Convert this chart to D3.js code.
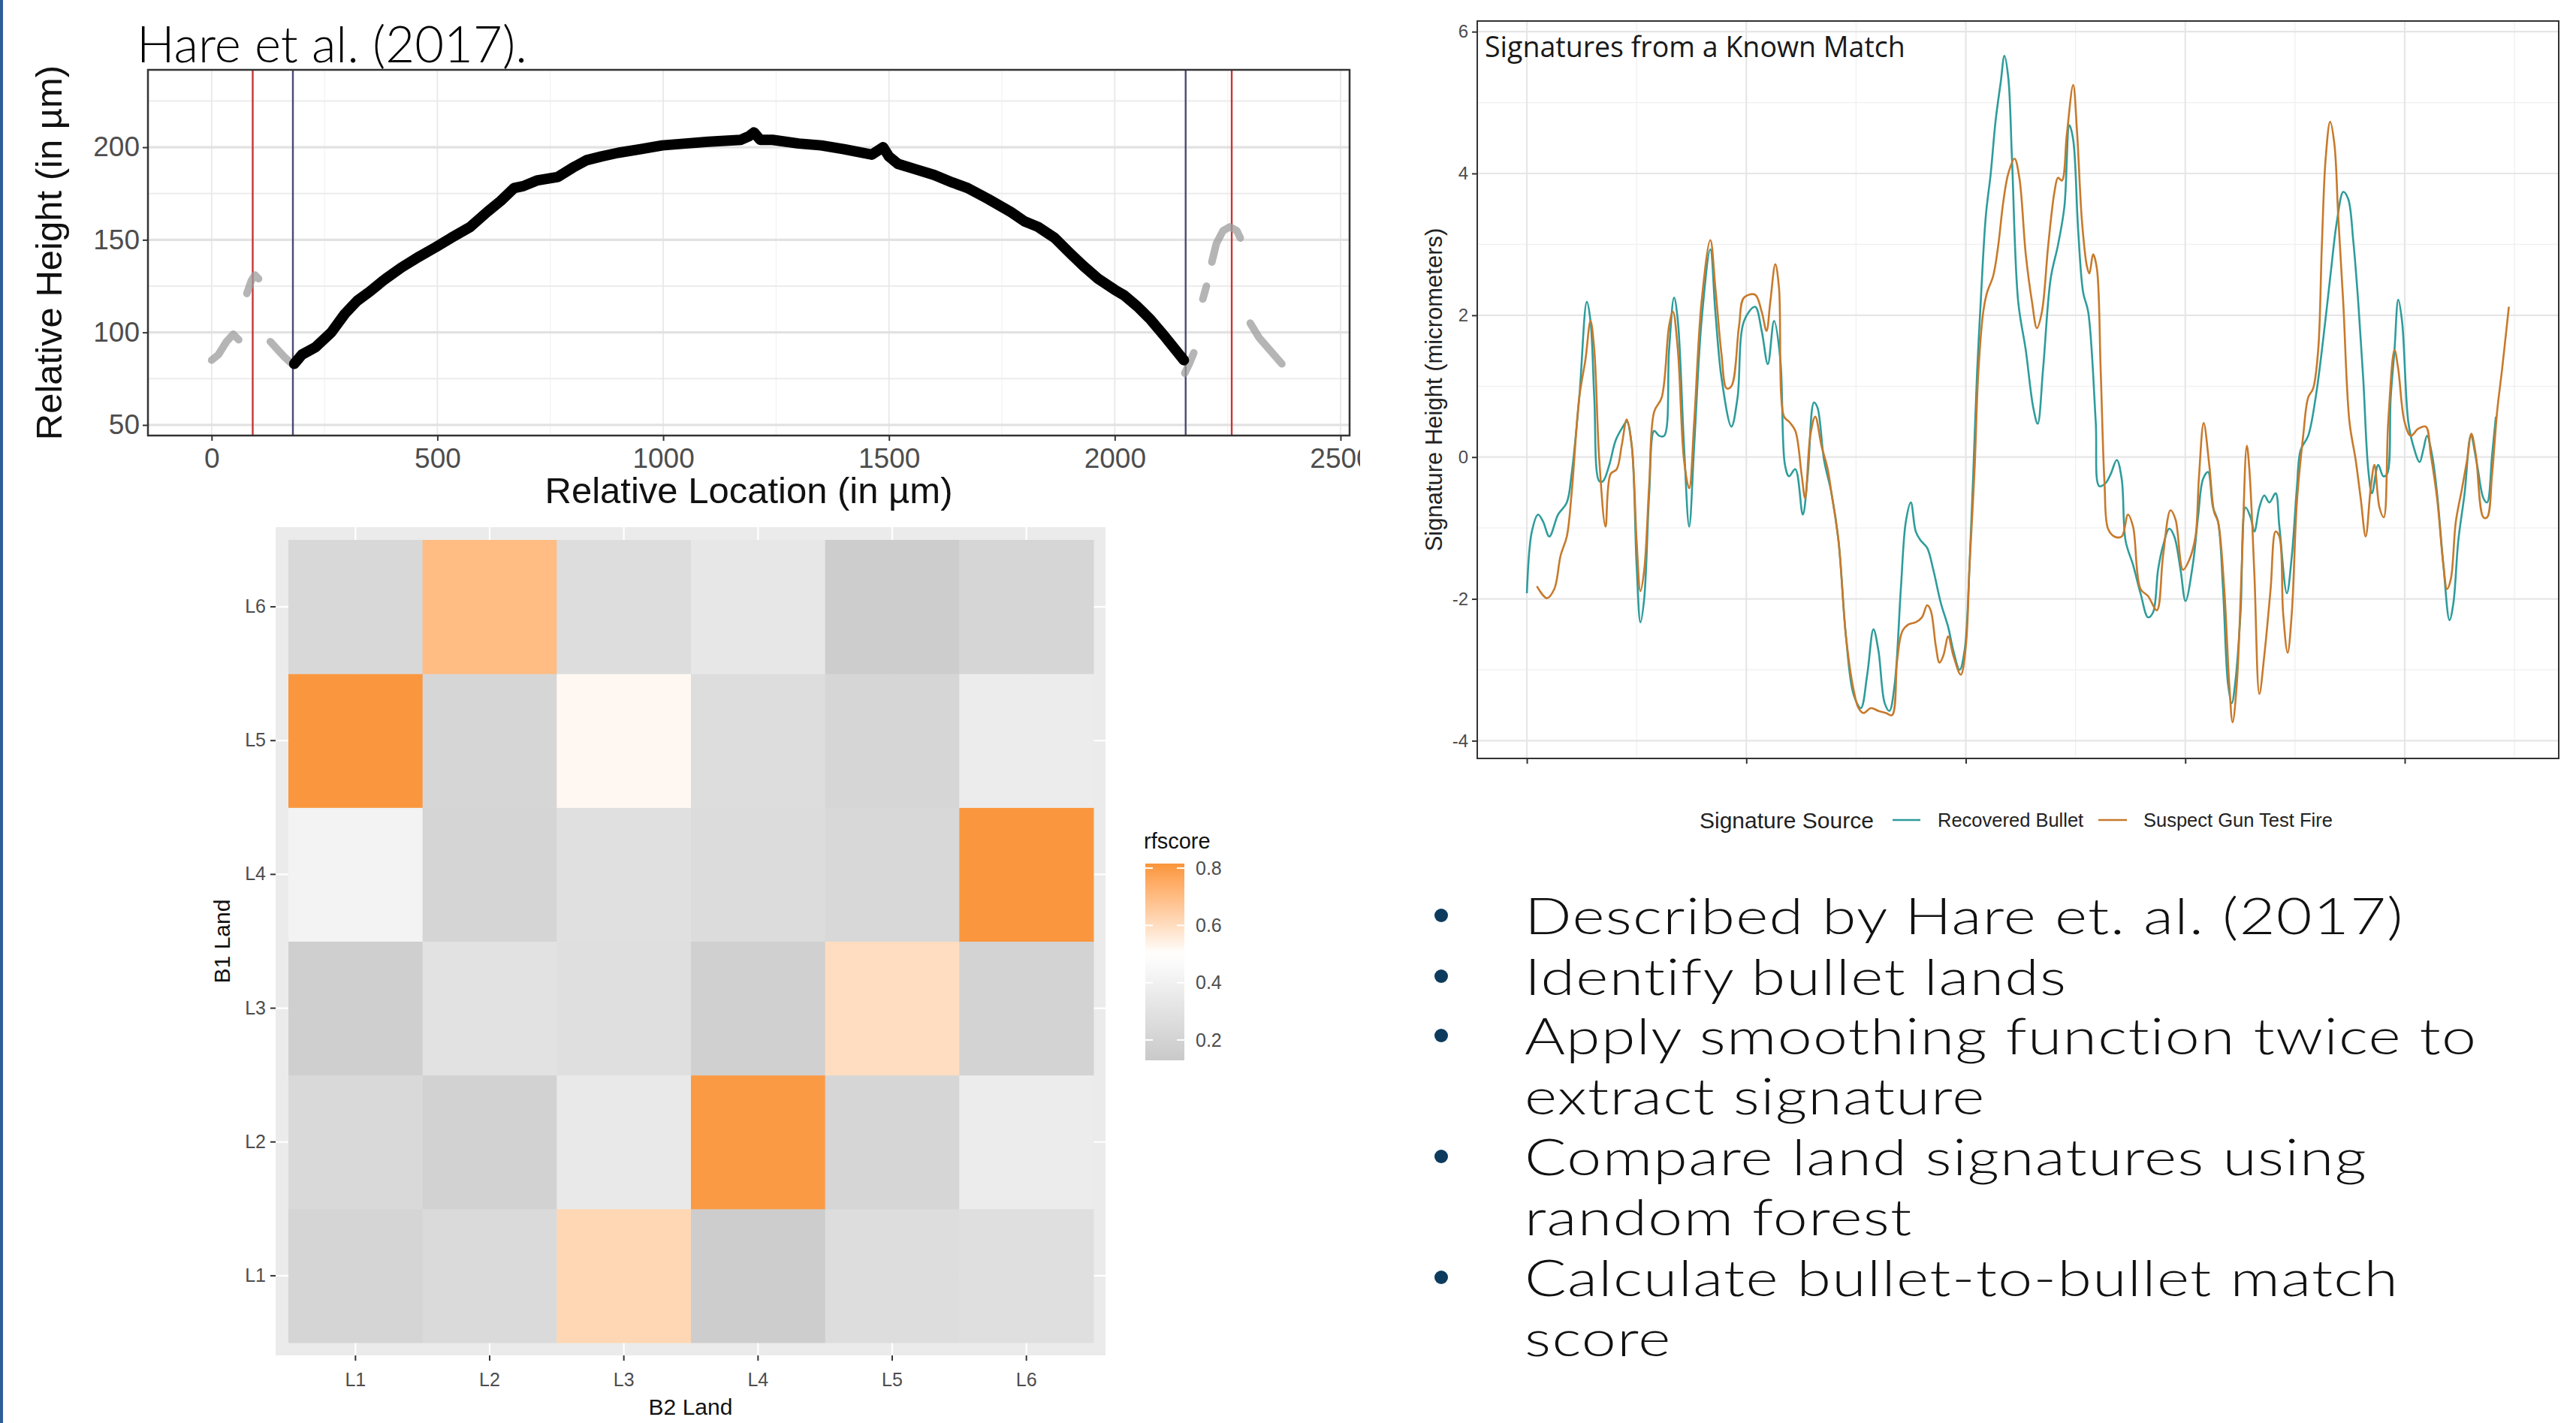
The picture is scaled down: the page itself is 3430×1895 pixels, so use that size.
<!DOCTYPE html>
<html><head><meta charset="utf-8">
<script src="https://cdn.jsdelivr.net/npm/d3@7"></script>
<style>html,body{margin:0;padding:0;background:#fff;}svg{display:block;}</style>
</head><body>
<script>
// ---------------- DATA ----------------
// Profile (Hare et al. 2017): black = used part, grey = excluded shoulders
const profileX = [183,200,230,265,295,322,350,380,420,460,496,530,573,610,640,670,690,720,767,800,830,863,900,950,998,1050,1100,1172,1190,1201,1215,1242,1300,1350,1400,1462,1487,1500,1520,1560,1600,1640,1674,1720,1770,1800,1830,1867,1900,1930,1963,2000,2021,2050,2079,2110,2153];
const profileY = [83,88,92,100,110,117,122,128,135,141,146,151,157,165,171,178,179,182,184,189,193,195,197,199,201,202,203,204,206,208,204,204,202,201,199,196,200,195,191,188,185,181,178,172,165,160,157,151,143,136,129,123,120,114,107,98,85];
const shoulderX = [[0,15,33,48,60],[78,88,96,104],[130,145,160,178],[2155,2165,2175],[2195,2203],[2215,2225,2240,2255,2270,2278],[2300,2320,2345,2370]];
const shoulderY = [[85,88,95,99,96],[121,128,131,129],[95,91,87,83],[78,83,89],[118,125],[138,148,155,157,155,151],[105,97,90,83]];
const redLines = [91, 2259];
const navyLines = [180, 2157];
const profXTicks = [0,500,1000,1500,2000,2500];
const profYTicks = [50,100,150,200];

// Signatures from a known match
const sigSeries = ["Recovered Bullet","Suspect Gun Test Fire"];
const recX = [0,5.7,12.8,18.5,25.6,35.6,45.5,51,59.7,68.3,72.5,76.8,82.5,86.7,93.9,101,108,113.8,119.5,125,129.4,133.7,139.4,145,150.7,156.4,162,167.7,172,179,184.9,190.6,199,209,214.7,221.8,233,240,247.4,260,267.5,274.5,281.6,288.7,294,298.6,305.8,314.3,320,327,331,338.5,347,355,363.5,372,380.5,387.7,394.8,400.5,407.6,413,419,426,431.7,437.4,443,448.8,456,463,471.6,480,485.8,493,498.6,504.3,508.5,512.8,517,522.8,528.4,534,539.8,544,548.4,552.6,559.7,568.3,576.8,581.9,588,596.7,605,612.3,618,622.3,628,633.7,639.4,648,652,659,665,672,677.6,682,690.5,699,707.6,713.3,719,724.7,731.8,737.5,744.6,750.3,758.8,764.5,770.2,775.9,781.6,787.3,793,798.7,803,807.3,813,818.7,824.4,828.7,834.4,840,845.8,852.9,857.2,865.7,871.4,877.1,881.4,890,898.5,907,915.6,922.8,930,935.6,941.3,947,952.7,958.4,962.7,969.8,975.5,979.8,984,988.3,992.6,996.9,1004,1009.7,1016.9,1021.1,1025.4,1031.1,1036.8,1044,1051,1055.4,1061,1068.2,1075.3,1082.4,1089.6,1093.8,1099.5,1103.8];
const recY = [-1.92,-1.05,-0.81,-0.91,-1.12,-0.81,-0.64,-0.24,0.84,2.19,1.92,0.84,-0.34,-0.34,-0.11,0.23,0.40,0.50,0.16,-1.52,-2.33,-1.99,-0.51,0.37,0.30,0.30,1.51,2.25,1.92,0.16,-0.98,0.16,1.92,2.93,2.05,1.11,0.43,0.84,1.92,2.12,1.78,1.31,1.92,1.38,-0.11,-0.27,-0.17,-0.81,-0.24,0.77,0.70,-0.04,-0.51,-1.18,-2.53,-3.34,-3.54,-3.07,-2.43,-2.73,-3.47,-3.58,-3.2,-1.86,-0.91,-0.64,-1.05,-1.18,-1.28,-1.59,-2.06,-2.40,-2.73,-3.0,-2.73,-1.52,-0.24,1.18,2.19,3.40,4.0,4.75,5.29,5.66,5.35,4.21,2.19,1.51,0.70,0.47,1.24,2.52,2.99,3.53,4.68,4.48,3.20,2.32,2.05,0.50,-0.41,-0.37,-0.24,-0.04,-0.31,-1.18,-1.52,-1.92,-2.26,-2.19,-1.59,-1.25,-1.01,-1.12,-1.59,-2.03,-1.50,-0.85,-0.31,-0.21,-0.71,-0.91,-1.86,-3.2,-3.47,-3.14,-2.19,-0.71,-0.85,-1.05,-0.71,-0.54,-0.64,-0.51,-0.98,-1.92,-1.39,-0.44,0.10,0.30,0.84,1.65,2.59,3.33,3.74,3.64,3.06,2.19,1.11,-0.17,-0.51,-0.11,-0.27,-0.24,0.84,1.51,2.22,1.92,0.50,0.16,-0.07,0.10,0.30,0.03,-0.51,-1.52,-2.30,-2.06,-1.18,-0.51,0.30,-0.11,-0.58,-0.64,0.03,0.57];
const testX = [11.4,22.8,31.3,38.4,45.5,51,59.7,66.8,72.5,76.8,82.5,89.6,95.3,102.4,108,113.8,119.5,125,129.4,133.7,139.4,145,153.6,162,166.4,172,179,184.9,190.6,199,209,214.7,221.8,227.5,233,241.7,247.4,260,267.5,273,277.3,283,287.2,293,298.6,305.8,312.9,317,322.8,328.5,335.6,342.7,347,355,363.5,372,377.8,383.4,392,400.5,409,416,421.8,427.5,434.6,443,450,456,460,465.9,470,474.4,480,485.8,494.3,500,504.3,510,514.2,519.9,524.2,531.3,537,542.7,548.4,555.5,561,568.3,575.4,581,586.7,593.9,601,605,609.5,615,622.3,626.6,632.3,638,640.8,645,649.3,653.6,658,662,669.2,677.6,684.7,690.5,699,707.6,717.6,724.7,733.2,738.9,747.4,754.5,761.6,765.5,771,777.3,783,787.3,794.4,800.1,803.9,808.7,814.4,820.1,823,828.7,834.4,840,847.2,852.9,857.2,861.4,866.6,871.4,877.1,884.3,890,895.7,901.4,905.6,909.9,915,919.9,924.2,929.9,937,944.1,949.8,955.5,961.2,965.5,971.2,976.1,981.2,988.3,992.6,999.7,1006.9,1015.4,1024,1029.7,1036.8,1044,1048.2,1052.5,1058.2,1065.3,1071,1075.9,1081,1089.6,1093.8,1099.5,1105.2,1110.9,1118.6];
const testY = [-1.82,-1.99,-1.86,-1.39,-1.12,-0.51,0.84,1.38,1.92,1.51,-0.04,-0.98,-0.24,-0.17,0.16,0.53,0.16,-1.18,-1.89,-1.59,-0.38,0.64,0.84,1.85,2.05,1.51,-0.04,-0.44,0.50,2.19,3.06,2.39,1.44,0.97,1.0,1.85,2.25,2.29,2.05,1.78,2.19,2.72,2.39,0.57,0.50,0.37,-0.24,-0.58,0.30,0.57,0.16,-0.17,-0.51,-1.18,-2.53,-3.27,-3.54,-3.61,-3.54,-3.58,-3.61,-3.64,-2.87,-2.46,-2.36,-2.33,-2.26,-2.09,-2.16,-2.67,-2.90,-2.80,-2.53,-2.80,-3.07,-2.67,-1.52,-0.17,1.18,2.05,2.32,2.56,2.99,3.60,4.0,4.21,3.94,2.86,2.19,1.82,2.05,2.99,3.74,3.94,3.90,4.54,5.25,4.61,3.33,2.69,2.59,2.86,2.66,1.24,-0.37,-1.01,-1.12,-1.12,-0.81,-0.98,-1.86,-1.96,-2.16,-1.39,-0.75,-0.88,-1.59,-1.45,-1.12,-0.3,0.48,-0.11,-0.78,-0.91,-1.86,-3.2,-3.74,-3.2,-1.52,0.16,-0.17,-1.65,-3.34,-2.80,-1.86,-1.05,-1.12,-2.19,-2.76,-2.19,-0.64,0.30,0.84,0.97,1.51,2.99,4.21,4.73,4.41,3.40,2.19,0.50,-0.04,-0.58,-1.12,-0.44,-0.11,-0.71,-0.85,0.50,1.51,1.24,0.50,0.30,0.40,0.43,0.03,-0.58,-1.52,-1.86,-1.72,-0.91,-0.44,-0.04,0.33,0.03,-0.85,-0.85,-0.24,0.64,1.24,2.12];
const sigYTicks = [-4,-2,0,2,4,6];
const sigXTicks = [0,250,500,750,1000];

// Heatmap of rfscore: rows = B1 land (L1..L6), columns = B2 land (L1..L6)
const b2Lands = ["L1","L2","L3","L4","L5","L6"];
const b1Lands = ["L1","L2","L3","L4","L5","L6"];
const rfB1L1 = [0.21, 0.25, 0.62, 0.156, 0.27, 0.28];
const rfB1L2 = [0.24, 0.195, 0.35, 0.80, 0.22, 0.37];
const rfB1L3 = [0.17, 0.30, 0.28, 0.18, 0.60, 0.20];
const rfB1L4 = [0.42, 0.21, 0.29, 0.26, 0.235, 0.81];
const rfB1L5 = [0.81, 0.22, 0.52, 0.27, 0.22, 0.37];
const rfB1L6 = [0.235, 0.70, 0.27, 0.34, 0.156, 0.223];
const rfLegendTicks = [0.2, 0.4, 0.6, 0.8];

const bullets = [
  {dot:true,  text:"Described by Hare et. al. (2017)"},
  {dot:true,  text:"Identify bullet lands"},
  {dot:true,  text:"Apply smoothing function twice to"},
  {dot:false, text:"extract signature"},
  {dot:true,  text:"Compare land signatures using"},
  {dot:false, text:"random forest"},
  {dot:true,  text:"Calculate bullet-to-bullet match"},
  {dot:false, text:"score"}
];

// ---------------- DRAWING ----------------
const W = 3430, H = 1895;
const RF = "'Liberation Sans', Arial, sans-serif";
const SLIDE = "Lato, 'Open Sans', sans-serif";
const svg = d3.select("body").append("svg").attr("width", W).attr("height", H);
svg.append("rect").attr("width", W).attr("height", H).attr("fill", "#fff");
const defs = svg.append("defs");

function fitText(sel, target) {
  const len = sel.node().getComputedTextLength();
  const fs = parseFloat(sel.attr("font-size"));
  if (len > 0) sel.attr("font-size", (fs * target / len).toFixed(2));
  return parseFloat(sel.attr("font-size"));
}

// left slide accent bar
svg.append("rect").attr("x", 0).attr("y", 0).attr("width", 4).attr("height", H).attr("fill", "#2f5f98");

// ===== Profile chart =====
defs.append("clipPath").attr("id", "profClip").append("rect").attr("x", 0).attr("y", 0).attr("width", 1811).attr("height", 700);
const prof = svg.append("g").attr("clip-path", "url(#profClip)");
const pL = 197, pR = 1797, pT = 93, pB = 580;
const px = d3.scaleLinear().domain([-141, 2520]).range([pL, pR]);
const py = d3.scaleLinear().domain([44.3, 241.8]).range([pB, pT]);
prof.append("rect").attr("x", pL).attr("y", pT).attr("width", pR - pL).attr("height", pB - pT).attr("fill", "#fff");
// grid
const pxMinor = d3.range(-250, 2751, 500).filter(v => v > -141 && v < 2520);
const pyMinor = [75, 125, 175, 225];
prof.selectAll(".pxm").data(pxMinor).join("line").attr("x1", d => px(d)).attr("x2", d => px(d)).attr("y1", pT).attr("y2", pB).attr("stroke", "#f2f2f2").attr("stroke-width", 1.2);
prof.selectAll(".pym").data(pyMinor).join("line").attr("x1", pL).attr("x2", pR).attr("y1", d => py(d)).attr("y2", d => py(d)).attr("stroke", "#ececec").attr("stroke-width", 2);
prof.selectAll(".pxM").data(profXTicks).join("line").attr("x1", d => px(d)).attr("x2", d => px(d)).attr("y1", pT).attr("y2", pB).attr("stroke", "#e8e8e8").attr("stroke-width", 1.8);
prof.selectAll(".pyM").data(profYTicks).join("line").attr("x1", pL).attr("x2", pR).attr("y1", d => py(d)).attr("y2", d => py(d)).attr("stroke", "#e2e2e2").attr("stroke-width", 3.2);
// vertical markers
prof.selectAll(".red").data(redLines).join("line").attr("x1", d => px(d)).attr("x2", d => px(d)).attr("y1", pT).attr("y2", pB).attr("stroke", "#c93434").attr("stroke-width", 2.4);
prof.selectAll(".navy").data(navyLines).join("line").attr("x1", d => px(d)).attr("x2", d => px(d)).attr("y1", pT).attr("y2", pB).attr("stroke", "#4a4a72").attr("stroke-width", 2.4);
// shoulders
const pLine = d3.line().x(d => px(d[0])).y(d => py(d[1]));
shoulderX.forEach((xs, i) => {
  const pts = xs.map((x, j) => [x, shoulderY[i][j]]);
  prof.append("path").attr("d", pLine(pts)).attr("fill", "none").attr("stroke", "#9c9c9c").attr("stroke-opacity", 0.75)
    .attr("stroke-width", 10).attr("stroke-linecap", "round").attr("stroke-linejoin", "round");
});
// main profile
prof.append("path").attr("d", pLine(profileX.map((x, i) => [x, profileY[i]]))).attr("fill", "none").attr("stroke", "#000")
  .attr("stroke-width", 14).attr("stroke-linecap", "round").attr("stroke-linejoin", "round");
prof.append("rect").attr("x", pL).attr("y", pT).attr("width", pR - pL).attr("height", pB - pT).attr("fill", "none").attr("stroke", "#333").attr("stroke-width", 2.5);
// axes
const pxAxis = prof.append("g").attr("transform", `translate(0,${pB})`).call(d3.axisBottom(px).tickValues(profXTicks).tickSize(7).tickPadding(5).tickFormat(d3.format("d")));
const pyAxis = prof.append("g").attr("transform", `translate(${pL},0)`).call(d3.axisLeft(py).tickValues(profYTicks).tickSize(7).tickPadding(4).tickFormat(d3.format("d")));
[pxAxis, pyAxis].forEach(a => {
  a.select(".domain").remove();
  a.selectAll(".tick line").attr("stroke", "#333").attr("stroke-width", 2);
  a.selectAll(".tick text").attr("fill", "#4d4d4d").attr("font-family", RF).attr("font-size", 37);
});
pxAxis.selectAll(".tick text").attr("dy", "0.85em");
prof.append("text").attr("x", (pL + pR) / 2).attr("y", 670).attr("text-anchor", "middle").attr("font-family", RF).attr("font-size", 49).attr("fill", "#111").text("Relative Location (in µm)");
prof.append("text").attr("transform", `translate(82,${(pT + pB) / 2}) rotate(-90)`).attr("text-anchor", "middle").attr("font-family", RF).attr("font-size", 49).attr("fill", "#111").text("Relative Height (in µm)");
const hareT = svg.append("text").attr("x", 182).attr("y", 83).attr("font-family", SLIDE).attr("font-weight", 300).attr("font-size", 54).attr("fill", "#000").text("Hare et al. (2017).");
fitText(hareT, 520);

// ===== Signature chart =====
const sL = 1967, sR = 3407, sT = 28, sB = 1010;
const sx = d3.scaleLinear().domain([-56.5, 1175.4]).range([sL, sR]);
const sy = d3.scaleLinear().domain([-4.25, 6.15]).range([sB, sT]);
const sig = svg.append("g");
sig.append("rect").attr("x", sL).attr("y", sT).attr("width", sR - sL).attr("height", sB - sT).attr("fill", "#fff");
const sxMinor = [125, 375, 625, 875, 1125];
const syMinor = [-3, -1, 1, 3, 5];
sig.selectAll(".sxm").data(sxMinor).join("line").attr("x1", d => sx(d)).attr("x2", d => sx(d)).attr("y1", sT).attr("y2", sB).attr("stroke", "#f0f0f0").attr("stroke-width", 1.3);
sig.selectAll(".sym").data(syMinor).join("line").attr("x1", sL).attr("x2", sR).attr("y1", d => sy(d)).attr("y2", d => sy(d)).attr("stroke", "#f0f0f0").attr("stroke-width", 1.3);
sig.selectAll(".sxM").data(sigXTicks).join("line").attr("x1", d => sx(d)).attr("x2", d => sx(d)).attr("y1", sT).attr("y2", sB).attr("stroke", "#e6e6e6").attr("stroke-width", 2.2);
sig.selectAll(".syM").data(sigYTicks).join("line").attr("x1", sL).attr("x2", sR).attr("y1", d => sy(d)).attr("y2", d => sy(d)).attr("stroke", "#e6e6e6").attr("stroke-width", 2.2);
const sigColor = d3.scaleOrdinal().domain(sigSeries).range(["#2e9c9b", "#c77a2c"]);
const sLine = d3.line().x(d => sx(d[0])).y(d => sy(d[1])).curve(d3.curveCatmullRom.alpha(0.5));
sig.append("path").attr("d", sLine(recX.map((x, i) => [x, recY[i]]))).attr("fill", "none").attr("stroke", sigColor(sigSeries[0])).attr("stroke-width", 2.6).attr("stroke-linejoin", "round");
sig.append("path").attr("d", sLine(testX.map((x, i) => [x, testY[i]]))).attr("fill", "none").attr("stroke", sigColor(sigSeries[1])).attr("stroke-width", 2.6).attr("stroke-linejoin", "round");
sig.append("rect").attr("x", sL).attr("y", sT).attr("width", sR - sL).attr("height", sB - sT).attr("fill", "none").attr("stroke", "#333").attr("stroke-width", 2);
const syAxis = sig.append("g").attr("transform", `translate(${sL},0)`).call(d3.axisLeft(sy).tickValues(sigYTicks).tickSize(7).tickPadding(5).tickFormat(d3.format("d")));
const sxAxis = sig.append("g").attr("transform", `translate(0,${sB})`).call(d3.axisBottom(sx).tickValues(sigXTicks).tickSize(7).tickFormat(""));
[syAxis, sxAxis].forEach(a => {
  a.select(".domain").remove();
  a.selectAll(".tick line").attr("stroke", "#333").attr("stroke-width", 2);
  a.selectAll(".tick text").attr("fill", "#4d4d4d").attr("font-family", RF).attr("font-size", 24);
});
syAxis.selectAll(".tick text").text(d => d < 0 ? "-" + Math.abs(d) : d);
sig.append("text").attr("transform", `translate(1920,${(sT + sB) / 2}) rotate(-90)`).attr("text-anchor", "middle").attr("font-family", RF).attr("font-size", 31).attr("fill", "#222").text("Signature Height (micrometers)");
const sigTitle = sig.append("text").attr("x", 1977).attr("y", 76).attr("font-family", "'Open Sans', sans-serif").attr("font-size", 37).attr("fill", "#1a1a1a").text("Signatures from a Known Match");
fitText(sigTitle, 560);
// legend
const lg = svg.append("g");
const lgY = 1092;
lg.append("text").attr("x", 2263).attr("y", lgY).attr("dy", "0.35em").attr("font-family", RF).attr("font-size", 30).attr("fill", "#222").text("Signature Source");
const lgKeys = [{x1: 2520, x2: 2557, tx: 2580}, {x1: 2794, x2: 2832, tx: 2854}];
sigSeries.forEach((s, i) => {
  lg.append("line").attr("x1", lgKeys[i].x1).attr("x2", lgKeys[i].x2).attr("y1", lgY).attr("y2", lgY).attr("stroke", sigColor(s)).attr("stroke-width", 2.6);
  lg.append("text").attr("x", lgKeys[i].tx).attr("y", lgY).attr("dy", "0.35em").attr("font-family", RF).attr("font-size", 25.5).attr("fill", "#222").text(s);
});

// ===== Heatmap =====
const hm = svg.append("g");
const hL = 367, hR = 1472, hT = 702, hB = 1805;
hm.append("rect").attr("x", hL).attr("y", hT).attr("width", hR - hL).attr("height", hB - hT).attr("fill", "#ebebeb");
const hx = d3.scaleBand().domain(b2Lands).range([384, 1456]);
const hy = d3.scaleBand().domain(b1Lands.slice().reverse()).range([719, 1788]);
hm.selectAll(".gx").data(b2Lands).join("line").attr("x1", d => hx(d) + hx.bandwidth() / 2).attr("x2", d => hx(d) + hx.bandwidth() / 2).attr("y1", hT).attr("y2", hB).attr("stroke", "#fff").attr("stroke-width", 2.2);
hm.selectAll(".gy").data(b1Lands).join("line").attr("y1", d => hy(d) + hy.bandwidth() / 2).attr("y2", d => hy(d) + hy.bandwidth() / 2).attr("x1", hL).attr("x2", hR).attr("stroke", "#fff").attr("stroke-width", 2.2);
const fill = d3.scaleLinear().domain([0.129, 0.5, 0.816]).range(["#c9c9c9", "#ffffff", "#f9953a"]).interpolate(d3.interpolateLab).clamp(true);
const rfRows = [rfB1L1, rfB1L2, rfB1L3, rfB1L4, rfB1L5, rfB1L6];
const cells = [];
rfRows.forEach((row, i) => row.forEach((v, j) => cells.push({b1: b1Lands[i], b2: b2Lands[j], v})));
hm.selectAll(".cell").data(cells).join("rect").attr("x", d => hx(d.b2)).attr("y", d => hy(d.b1))
  .attr("width", hx.bandwidth() + 0.5).attr("height", hy.bandwidth() + 0.5).attr("fill", d => fill(d.v));
const hxAxis = hm.append("g").attr("transform", `translate(0,${hB})`).call(d3.axisBottom(hx).tickSize(7).tickPadding(16));
const hyAxis = hm.append("g").attr("transform", `translate(${hL},0)`).call(d3.axisLeft(hy).tickSize(7).tickPadding(6));
[hxAxis, hyAxis].forEach(a => {
  a.select(".domain").remove();
  a.selectAll(".tick line").attr("stroke", "#333").attr("stroke-width", 2);
  a.selectAll(".tick text").attr("fill", "#4d4d4d").attr("font-family", RF).attr("font-size", 25);
});
hm.append("text").attr("x", (hL + hR) / 2).attr("y", 1884).attr("text-anchor", "middle").attr("font-family", RF).attr("font-size", 30).attr("fill", "#111").text("B2 Land");
hm.append("text").attr("transform", `translate(306,${(hT + hB) / 2}) rotate(-90)`).attr("text-anchor", "middle").attr("font-family", RF).attr("font-size", 30).attr("fill", "#111").text("B1 Land");
// colour bar
const cbL = 1525, cbW = 52, cbT = 1150, cbB = 1412;
const cbScale = d3.scaleLinear().domain([0.129, 0.816]).range([cbB, cbT]);
const grad = defs.append("linearGradient").attr("id", "rfgrad").attr("x1", 0).attr("y1", 1).attr("x2", 0).attr("y2", 0);
d3.range(0, 1.0001, 0.05).forEach(t => {
  const v = 0.129 + t * (0.816 - 0.129);
  grad.append("stop").attr("offset", t).attr("stop-color", fill(v));
});
hm.append("rect").attr("x", cbL).attr("y", cbT).attr("width", cbW).attr("height", cbB - cbT).attr("fill", "url(#rfgrad)");
rfLegendTicks.forEach(t => {
  hm.append("line").attr("x1", cbL).attr("x2", cbL + 10).attr("y1", cbScale(t)).attr("y2", cbScale(t)).attr("stroke", "#fff").attr("stroke-width", 2);
  hm.append("line").attr("x1", cbL + cbW - 10).attr("x2", cbL + cbW).attr("y1", cbScale(t)).attr("y2", cbScale(t)).attr("stroke", "#fff").attr("stroke-width", 2);
  hm.append("text").attr("x", 1592).attr("y", cbScale(t)).attr("dy", "0.35em").attr("font-family", RF).attr("font-size", 25).attr("fill", "#4d4d4d").text(t.toFixed(1));
});
hm.append("text").attr("x", 1523).attr("y", 1130).attr("font-family", RF).attr("font-size", 29).attr("fill", "#111").text("rfscore");

// ===== Bullet text =====
const bt = svg.append("g");
const bBase = [1244, 1325, 1404, 1484, 1565, 1645, 1726, 1806];
const bTargets = {0: 1110, 2: 1280, 4: 1157, 6: 1181};
const bFS = 66, bStretch = 1.25;
const bNodes = bullets.map((b, i) => bt.append("text").attr("transform", `translate(2030,${bBase[i]}) scale(${bStretch},1)`)
  .attr("x", 0).attr("y", 0).attr("font-family", SLIDE)
  .attr("font-weight", 300).attr("font-size", bFS).attr("fill", "#111").text(b.text));
let sumT = 0, sumM = 0, sumC = 0;
Object.keys(bTargets).forEach(k => {
  sumT += bTargets[k];
  sumM += bNodes[k].node().getComputedTextLength();
  sumC += bullets[k].text.length;
});
const ls = Math.max(0, (sumT / bStretch - sumM) / sumC);
bNodes.forEach(n => n.attr("letter-spacing", ls.toFixed(2)));
bullets.forEach((b, i) => {
  if (b.dot) bt.append("circle").attr("cx", 1919).attr("cy", bBase[i] - 25).attr("r", 9).attr("fill", "#0d3b5e");
});
</script>
</body></html>
